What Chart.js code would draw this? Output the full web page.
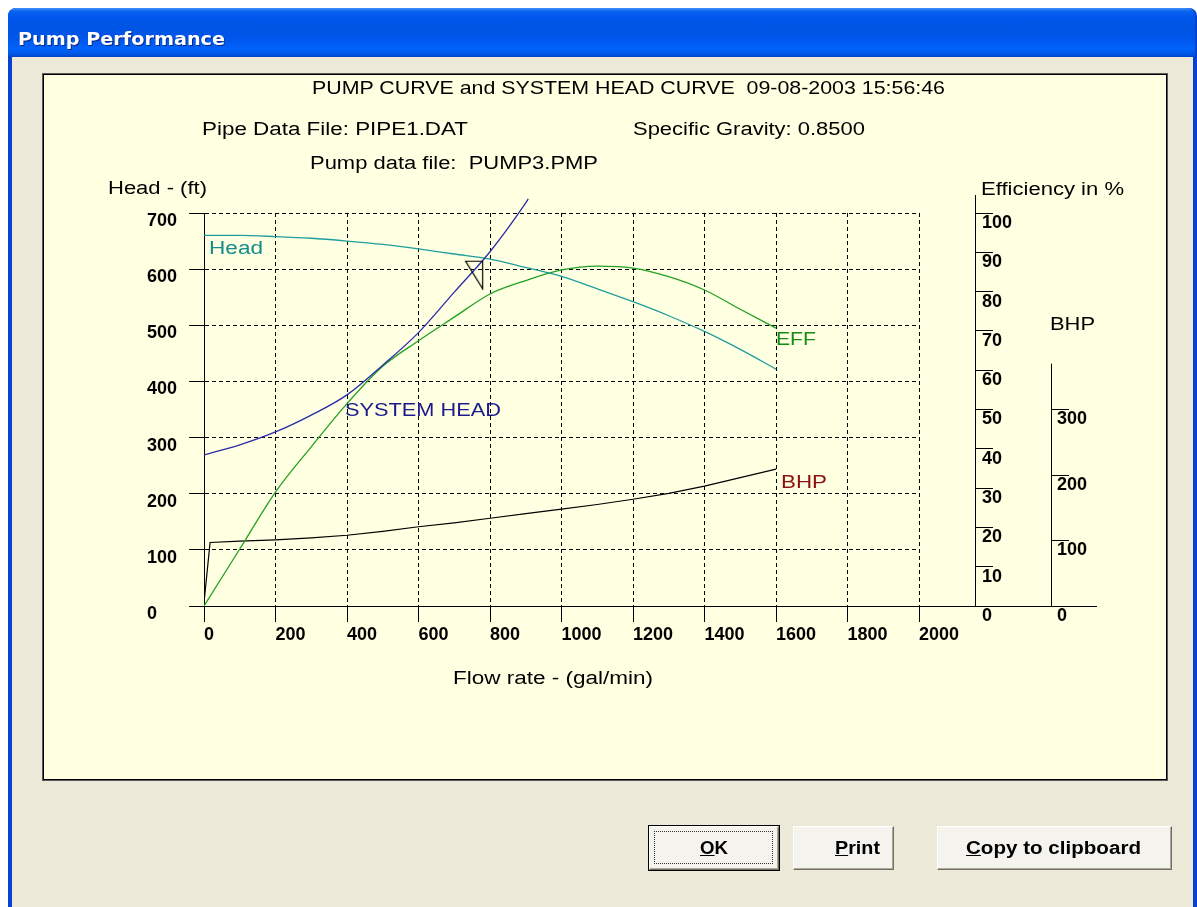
<!DOCTYPE html>
<html>
<head>
<meta charset="utf-8">
<script src="https://cdn.jsdelivr.net/npm/chart.js@4.4.1/dist/chart.umd.min.js"></script>
<style>
html,body{margin:0;padding:0;background:#fff;width:1197px;height:907px;overflow:hidden;font-family:"Liberation Sans",Arial,sans-serif;}
#win{position:absolute;left:8px;top:8px;width:1189px;height:899px;background:#0842D0;border-radius:8px 8px 0 0;}
#titlebar{position:absolute;left:8px;top:8px;width:1187px;height:50px;border-radius:8px 8px 0 0;
 background:linear-gradient(to bottom,#3D8EF5 0%,#0A62F2 7%,#0058EE 16%,#0054E3 40%,#0056EC 62%,#0062F9 80%,#0057E8 92%,#003DBA 100%);}
#body{position:absolute;left:12px;top:57px;width:1181px;height:850px;background:#ECE9D8;}
#panel{position:absolute;left:42px;top:73px;width:1124px;height:706px;background:#FFFFE1;border:1px solid #5a5a5a;box-shadow:inset 0 0 0 1px #000;}
#c{position:absolute;left:0;top:0;width:1197px;height:907px;}
.t{position:absolute;white-space:pre;line-height:1;transform-origin:0 50%;}
.btn{position:absolute;box-sizing:border-box;background:#F4F3EE;border-top:1px solid #fff;border-left:1px solid #fff;border-right:1px solid #716F64;border-bottom:1px solid #716F64;box-shadow:inset -1px -1px 0 #ACA899;}
.btn.def{outline:1px solid #000;}
.focus{position:absolute;left:4px;top:4px;right:5px;bottom:5px;border:1px dotted #333;}
</style>
</head>
<body>
<div id="win"></div>
<div id="titlebar"></div>
<div id="body"></div>
<div id="panel"></div>
<canvas id="c" width="1197" height="907"></canvas>
<div class="btn def" style="left:649px;top:826px;width:130px;height:44px;"><div class="focus"></div></div>
<div class="btn" style="left:793px;top:826px;width:101px;height:44px;"></div>
<div class="btn" style="left:937px;top:826px;width:235px;height:44px;"></div>
<script>
// ---- axis tick values ----
const flowTicks = [0, 200, 400, 600, 800, 1000, 1200, 1400, 1600, 1800, 2000];
const headTicks = [0, 100, 200, 300, 400, 500, 600, 700];
const effTicks  = [0, 10, 20, 30, 40, 50, 60, 70, 80, 90, 100];
const bhpTicks  = [0, 100, 200, 300];
const bhpAxisTop = 370;

// ---- pump head curve (ft) ----
const headFlow = [0, 100, 200, 300, 400, 500, 600, 700, 800, 900, 1000, 1100, 1200, 1300, 1400, 1500, 1600];
const headFt   = [660, 660, 658, 655, 650, 644, 636, 627, 618, 603, 587, 565, 542, 517, 489, 457, 422];

// ---- system head curve (ft) ----
const sysFlow = [0, 100, 200, 300, 400, 500, 600, 700, 800, 900, 907];
const sysFt   = [269, 287, 310, 340, 376, 429, 487, 559, 631, 718, 725];

// ---- efficiency (%) ----
const effFlow = [0, 100, 200, 300, 400, 500, 600, 700, 800, 900, 1000, 1100, 1200, 1300, 1400, 1500, 1600];
const effPct  = [0, 14.5, 29, 40.5, 51.5, 61, 67.5, 73.5, 79.4, 82.8, 85.5, 86.5, 86, 83.8, 80.4, 75.5, 70.7];

// ---- brake horsepower ----
const bhpFlow = [0, 17, 100, 200, 300, 400, 500, 600, 700, 800, 900, 1000, 1100, 1200, 1300, 1400, 1500, 1600];
const bhpVal  = [5, 97, 99, 101, 104, 108, 114, 121, 127, 134, 141, 148, 155, 163, 172, 183, 196, 209];

// ---- operating point ----
const opFlow = [778];
const opHead = [615];

const pts = (xs, ys) => xs.map((x, i) => ({x: x, y: ys[i]}));
const FONT = '"Liberation Sans", Arial, sans-serif';
const tickFont = {family: FONT, size: 18, weight: 'bold'};
const plain = v => String(v);

function makeMarker() {
  const c = document.createElement('canvas');
  c.width = 36; c.height = 58;
  const g = c.getContext('2d');
  g.strokeStyle = '#000'; g.lineWidth = 1.2;
  g.beginPath();
  g.moveTo(1.5, 29.5); g.lineTo(18.5, 29.5); g.lineTo(18.5, 57); g.closePath();
  g.stroke();
  return c;
}

const axisExtras = {
  id: 'axisExtras',
  afterDraw(chart) {
    const {ctx, chartArea, scales} = chart;
    const y0 = Math.round(scales.y.getPixelForValue(0)) + 0.5;
    const eff = scales.eff, bhp = scales.bhp;
    ctx.save();
    ctx.strokeStyle = '#000'; ctx.lineWidth = 1;
    ctx.beginPath();
    ctx.moveTo(chartArea.right, y0); ctx.lineTo(bhp.left + 46, y0);
    const ex = Math.round(eff.left) + 0.5;
    ctx.moveTo(ex, chartArea.top); ctx.lineTo(ex, chartArea.top - 18);
    const bx = Math.round(bhp.left) + 0.5;
    ctx.moveTo(bx, y0); ctx.lineTo(bx, bhp.getPixelForValue(bhpAxisTop));
    ctx.stroke();
    ctx.restore();
  }
};

const gridStyle = {color: '#000', lineWidth: 1, tickColor: '#000', tickWidth: 1, tickBorderDash: []};

new Chart(document.getElementById('c'), {
  type: 'line',
  data: {
    datasets: [
      {label: 'Operating point', data: pts(opFlow, opHead), yAxisID: 'y', showLine: false,
       pointStyle: makeMarker(), pointRadius: 10, clip: false},
      {label: 'SYSTEM HEAD', data: pts(sysFlow, sysFt), yAxisID: 'y', borderColor: '#2b2bab',
       borderWidth: 1.3, pointRadius: 0, cubicInterpolationMode: 'monotone', clip: false},
      {label: 'Head', data: pts(headFlow, headFt), yAxisID: 'y', borderColor: '#1f9e9e',
       borderWidth: 1.3, pointRadius: 0, cubicInterpolationMode: 'monotone'},
      {label: 'EFF', data: pts(effFlow, effPct), yAxisID: 'eff', borderColor: '#22a022',
       borderWidth: 1.3, pointRadius: 0, cubicInterpolationMode: 'monotone'},
      {label: 'BHP', data: pts(bhpFlow, bhpVal), yAxisID: 'bhp', borderColor: '#000',
       borderWidth: 1.2, pointRadius: 0, tension: 0}
    ]
  },
  options: {
    responsive: false,
    animation: false,
    devicePixelRatio: 1,
    layout: {padding: {left: 147, top: 213, right: 86, bottom: 261}},
    plugins: {legend: {display: false}, tooltip: {enabled: false}},
    scales: {
      x: {
        type: 'linear', position: 'bottom', min: 0, max: 2000,
        afterBuildTicks: s => { s.ticks = flowTicks.map(v => ({value: v})); },
        afterFit: s => { s.height = 40; },
        grid: Object.assign({tickLength: 16}, gridStyle),
        border: {display: true, color: '#000', width: 1, dash: [4, 3]},
        ticks: {align: 'start', padding: 2, color: '#000', font: tickFont, maxRotation: 0, autoSkip: false, callback: plain}
      },
      y: {
        type: 'linear', position: 'left', min: 0, max: 700,
        afterBuildTicks: s => { s.ticks = headTicks.map(v => ({value: v})); },
        afterFit: s => { s.width = 57; },
        grid: Object.assign({tickLength: 15}, gridStyle),
        border: {display: true, color: '#000', width: 1, dash: [4, 3]},
        ticks: {crossAlign: 'far', labelOffset: 8, color: '#000', font: tickFont, autoSkip: false, callback: plain}
      },
      spacer: {
        type: 'linear', position: 'right', weight: 1, min: 0, max: 1,
        afterFit: s => { s.width = 56; },
        grid: {display: false, drawTicks: false}, border: {display: false}, ticks: {display: false}
      },
      eff: {
        type: 'linear', position: 'right', weight: 2, min: 0, max: 100,
        afterBuildTicks: s => { s.ticks = effTicks.map(v => ({value: v})); },
        afterFit: s => { s.width = 76; },
        grid: Object.assign({drawOnChartArea: false, tickLength: 18}, gridStyle),
        border: {display: true, color: '#000', width: 1},
        ticks: {crossAlign: 'near', padding: -11, labelOffset: 10, color: '#000', font: tickFont, autoSkip: false, callback: plain}
      },
      bhp: {
        type: 'linear', position: 'right', weight: 3, min: 0, max: 600,
        afterBuildTicks: s => { s.ticks = bhpTicks.map(v => ({value: v})); },
        afterFit: s => { s.width = 60; },
        grid: Object.assign({drawOnChartArea: false, tickLength: 18}, gridStyle),
        border: {display: false},
        ticks: {crossAlign: 'near', padding: -12, labelOffset: 10, color: '#000', font: tickFont, autoSkip: false, callback: plain}
      }
    }
  },
  plugins: [axisExtras]
});

// ---- texts ----
const texts = [
  {s: 'Pump Performance', x: 18, x2: 225, cy: 37, fs: 18, w: 'bold', c: '#fff', ff: '"DejaVu Sans", sans-serif', sh: '1px 1px 0 #0a2a8a'},
  {s: 'PUMP CURVE and SYSTEM HEAD CURVE  09-08-2003 15:56:46', x: 312, x2: 945, cy: 86, fs: 19},
  {s: 'Pipe Data File: PIPE1.DAT', x: 202, x2: 468, cy: 128, fs: 18},
  {s: 'Specific Gravity: 0.8500', x: 633, x2: 865, cy: 128, fs: 18},
  {s: 'Pump data file:  PUMP3.PMP', x: 310, x2: 598, cy: 162, fs: 18},
  {s: 'Head - (ft)', x: 108, x2: 207, cy: 187, fs: 18},
  {s: 'Efficiency in %', x: 981, x2: 1124, cy: 188, fs: 18},
  {s: 'BHP', x: 1050, x2: 1095, cy: 323, fs: 18},
  {s: 'Flow rate - (gal/min)', x: 453, x2: 653, cy: 677, fs: 18},
  {s: 'Head', x: 209, x2: 263, cy: 247, fs: 18, c: '#178c8c'},
  {s: 'SYSTEM HEAD', x: 345, x2: 501, cy: 409, fs: 18, c: '#1a1a8c'},
  {s: 'EFF', x: 776, x2: 816, cy: 338, fs: 18, c: '#158c15'},
  {s: 'BHP', x: 781, x2: 827, cy: 481, fs: 18, c: '#8b1010'},
  {s: '<u>O</u>K', x: 700, x2: 728, cy: 847, fs: 18, w: 'bold', html: true},
  {s: '<u>P</u>rint', x: 835, x2: 880, cy: 847, fs: 18, w: 'bold', html: true},
  {s: '<u>C</u>opy to clipboard', x: 966, x2: 1141, cy: 847, fs: 18, w: 'bold', html: true}
];
texts.forEach(t => {
  const d = document.createElement('div');
  d.className = 't';
  if (t.html) d.innerHTML = t.s; else d.textContent = t.s;
  d.style.font = (t.w || 'normal') + ' ' + t.fs + 'px ' + (t.ff || FONT);
  d.style.color = t.c || '#000';
  if (t.sh) d.style.textShadow = t.sh;
  document.body.appendChild(d);
  const w = d.getBoundingClientRect().width;
  d.style.left = t.x + 'px';
  d.style.top = (t.cy - 0.49 * t.fs) + 'px';
  d.style.transform = 'scaleX(' + ((t.x2 - t.x) / w) + ')';
});
</script>
</body>
</html>
